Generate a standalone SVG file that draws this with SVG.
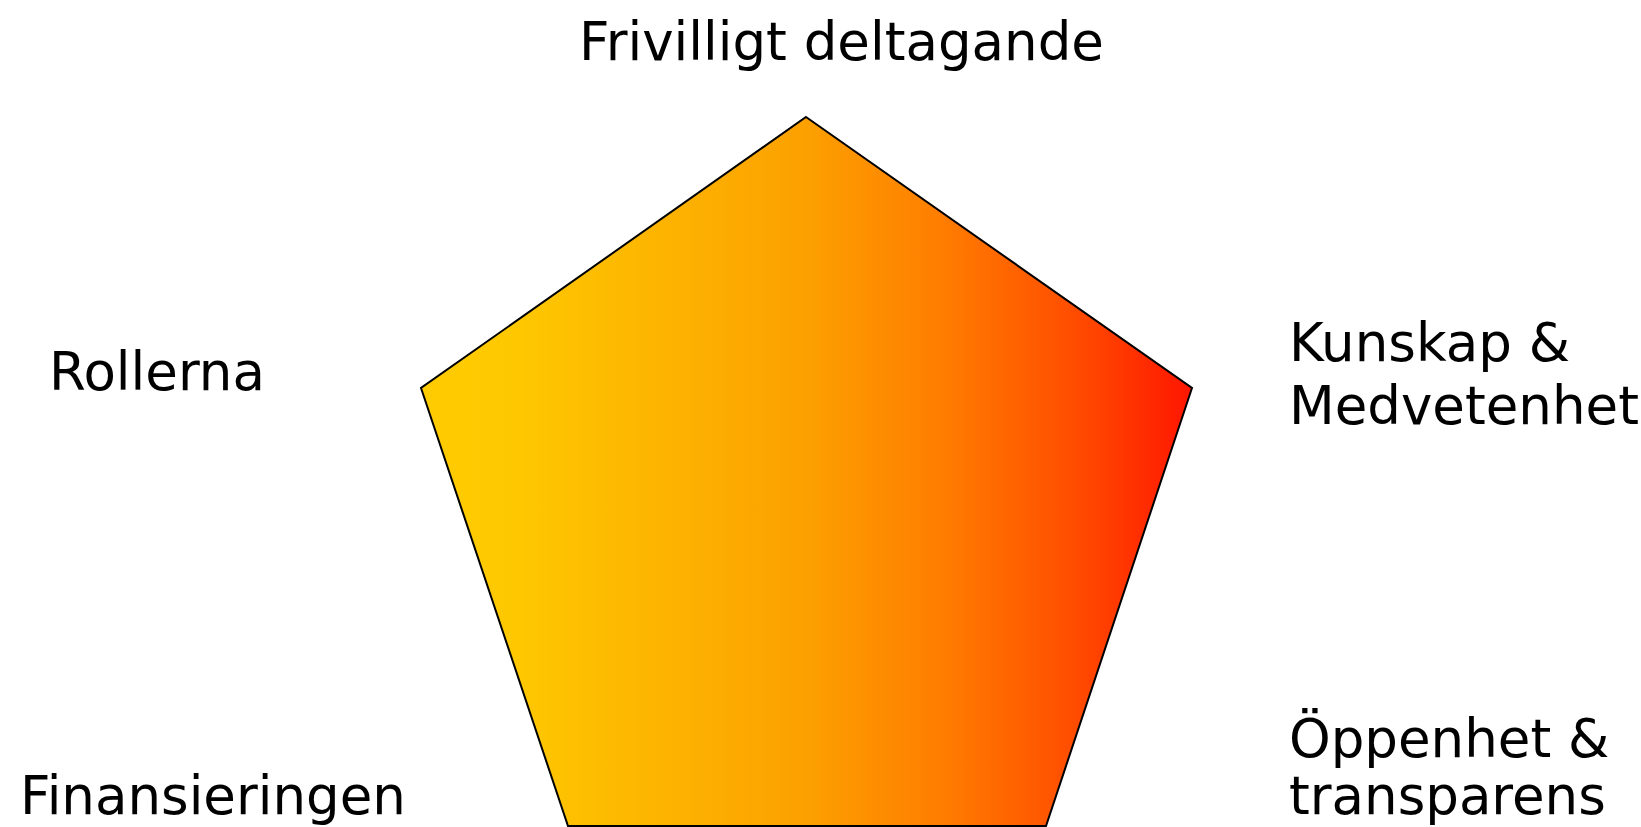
<svg xmlns="http://www.w3.org/2000/svg" width="1641" height="827" viewBox="0 0 1641 827">
<style>
.lbl{font-family:"DejaVu Sans",Verdana,sans-serif;font-size:53px;fill:#000}
.shape{stroke:#000;stroke-width:2;stroke-linejoin:miter}
</style>
<defs>
<linearGradient id="g" gradientUnits="userSpaceOnUse" x1="421" y1="0" x2="1192" y2="0">
<stop offset="0" stop-color="#FFCC00"/>
<stop offset="0.12" stop-color="#FEC800"/>
<stop offset="0.5" stop-color="#FCA000"/>
<stop offset="0.68" stop-color="#FF7C00"/>
<stop offset="0.85" stop-color="#FF4C00"/>
<stop offset="1" stop-color="#FF1600"/>
</linearGradient>
</defs>
<rect width="1641" height="827" fill="#fff"/>
<g id="pentagon">
<polygon class="shape" fill="url(#g)" points="806,117 1192,388 1046,826 568,826 421,388"/>
</g>
<g id="connectors"/>
<g id="label-top"><text class="lbl" x="579" y="60">Frivilligt deltagande</text></g>
<g id="label-left"><text class="lbl" x="49" y="390">Rollerna</text></g>
<g id="label-right"><text class="lbl" x="1289" y="361">Kunskap &amp;</text><text class="lbl" x="1289" y="424">Medvetenhet</text></g>
<g id="label-bottom-left"><text class="lbl" x="20" y="814">Finansieringen</text></g>
<g id="label-bottom-right"><text class="lbl" x="1289" y="757">Öppenhet &amp;</text><text class="lbl" x="1289" y="814">transparens</text></g>
</svg>
